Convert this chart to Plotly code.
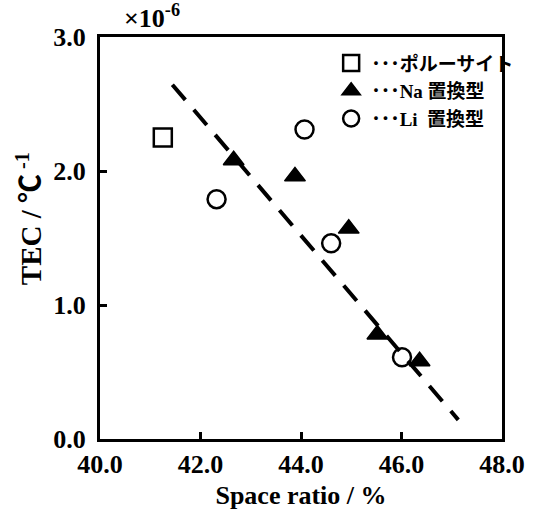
import plotly.graph_objects as go

# Data (TEC in units of 1e-6 /℃)
pollucite_x = [41.25]
pollucite_y = [2.25]
na_x = [42.66, 43.88, 44.95, 45.52, 46.36]
na_y = [2.08, 1.96, 1.57, 0.78, 0.58]
li_x = [42.32, 44.07, 44.60, 46.01]
li_y = [1.79, 2.31, 1.46, 0.61]
trend_x = [41.44, 47.13]
trend_y = [2.644, 0.143]

x_ticks = [40, 42, 44, 46, 48]
x_ticklabels = ["40.0", "42.0", "44.0", "46.0", "48.0"]
y_ticks = [0, 1, 2, 3]
y_ticklabels = ["0.0", "1.0", "2.0", "3.0"]

serif = "Liberation Serif, Noto Sans CJK JP, serif"
leg_font = "Liberation Serif, Noto Sans CJK JP"

fig = go.Figure()
fig.add_trace(go.Scatter(x=trend_x, y=trend_y, mode="lines",
                         line=dict(color="black", width=4, dash="20px,13px"),
                         showlegend=False, hoverinfo="skip"))
fig.add_trace(go.Scatter(x=pollucite_x, y=pollucite_y, mode="markers",
                         name="<b>･･･ポルーサイト</b>",
                         marker=dict(symbol="square-open", size=18, color="black",
                                     line=dict(width=2.5, color="black"))))
fig.add_trace(go.Scatter(x=na_x, y=na_y, mode="markers",
                         name="<b>･･･Na 置換型</b>",
                         marker=dict(symbol="triangle-up", size=18, color="black",
                                     line=dict(width=1.5, color="black"))))
fig.add_trace(go.Scatter(x=li_x, y=li_y, mode="markers",
                         name="<b>･･･Li  置換型</b>",
                         marker=dict(symbol="circle-open", size=18, color="black",
                                     line=dict(width=2.5, color="black"))))

axis_common = dict(showline=True, linewidth=3, linecolor="black", mirror=True,
                   ticks="inside", ticklen=7, tickwidth=3, tickcolor="black",
                   showgrid=False, zeroline=False,
                   tickfont=dict(family=serif, size=26, color="black", weight="bold"))

fig.update_xaxes(range=[40, 48], tickvals=x_ticks,
                 ticktext=["<b>%s</b>" % t for t in x_ticklabels],
                 title=dict(text="<b>Space ratio / %</b>",
                            font=dict(family=serif, size=26, color="#000000"),
                            standoff=8),
                 **axis_common)
fig.update_yaxes(range=[0, 3], tickvals=y_ticks,
                 ticktext=["<b>%s</b>" % t for t in y_ticklabels],
                 ticklabelstandoff=6,
                 **axis_common)

fig.add_annotation(xref="paper", yref="paper", x=-0.178, y=0.548,
                   xanchor="center", yanchor="middle", showarrow=False,
                   textangle=-90,
                   text="<b>TEC / ℃<sup> -1</sup></b>",
                   font=dict(family=serif, size=29, color="#000000"))

fig.add_annotation(xref="paper", yref="paper", x=0.055, y=1.05,
                   xanchor="left", yanchor="middle", showarrow=False,
                   text="<b>×10<sup>-6</sup></b>",
                   font=dict(family=serif, size=26, color="black"))

fig.update_layout(
    width=541, height=517,
    margin=dict(l=100, r=39, t=37, b=75),
    paper_bgcolor="white", plot_bgcolor="white",
    font=dict(family=serif, color="black"),
    showlegend=True,
    legend=dict(x=0.575, y=0.982, xanchor="left", yanchor="top",
                bgcolor="rgba(0,0,0,0)", tracegroupgap=0,
                font=dict(family=leg_font, size=19, color="black", weight="bold")),
)

fig.write_html("out.html")
